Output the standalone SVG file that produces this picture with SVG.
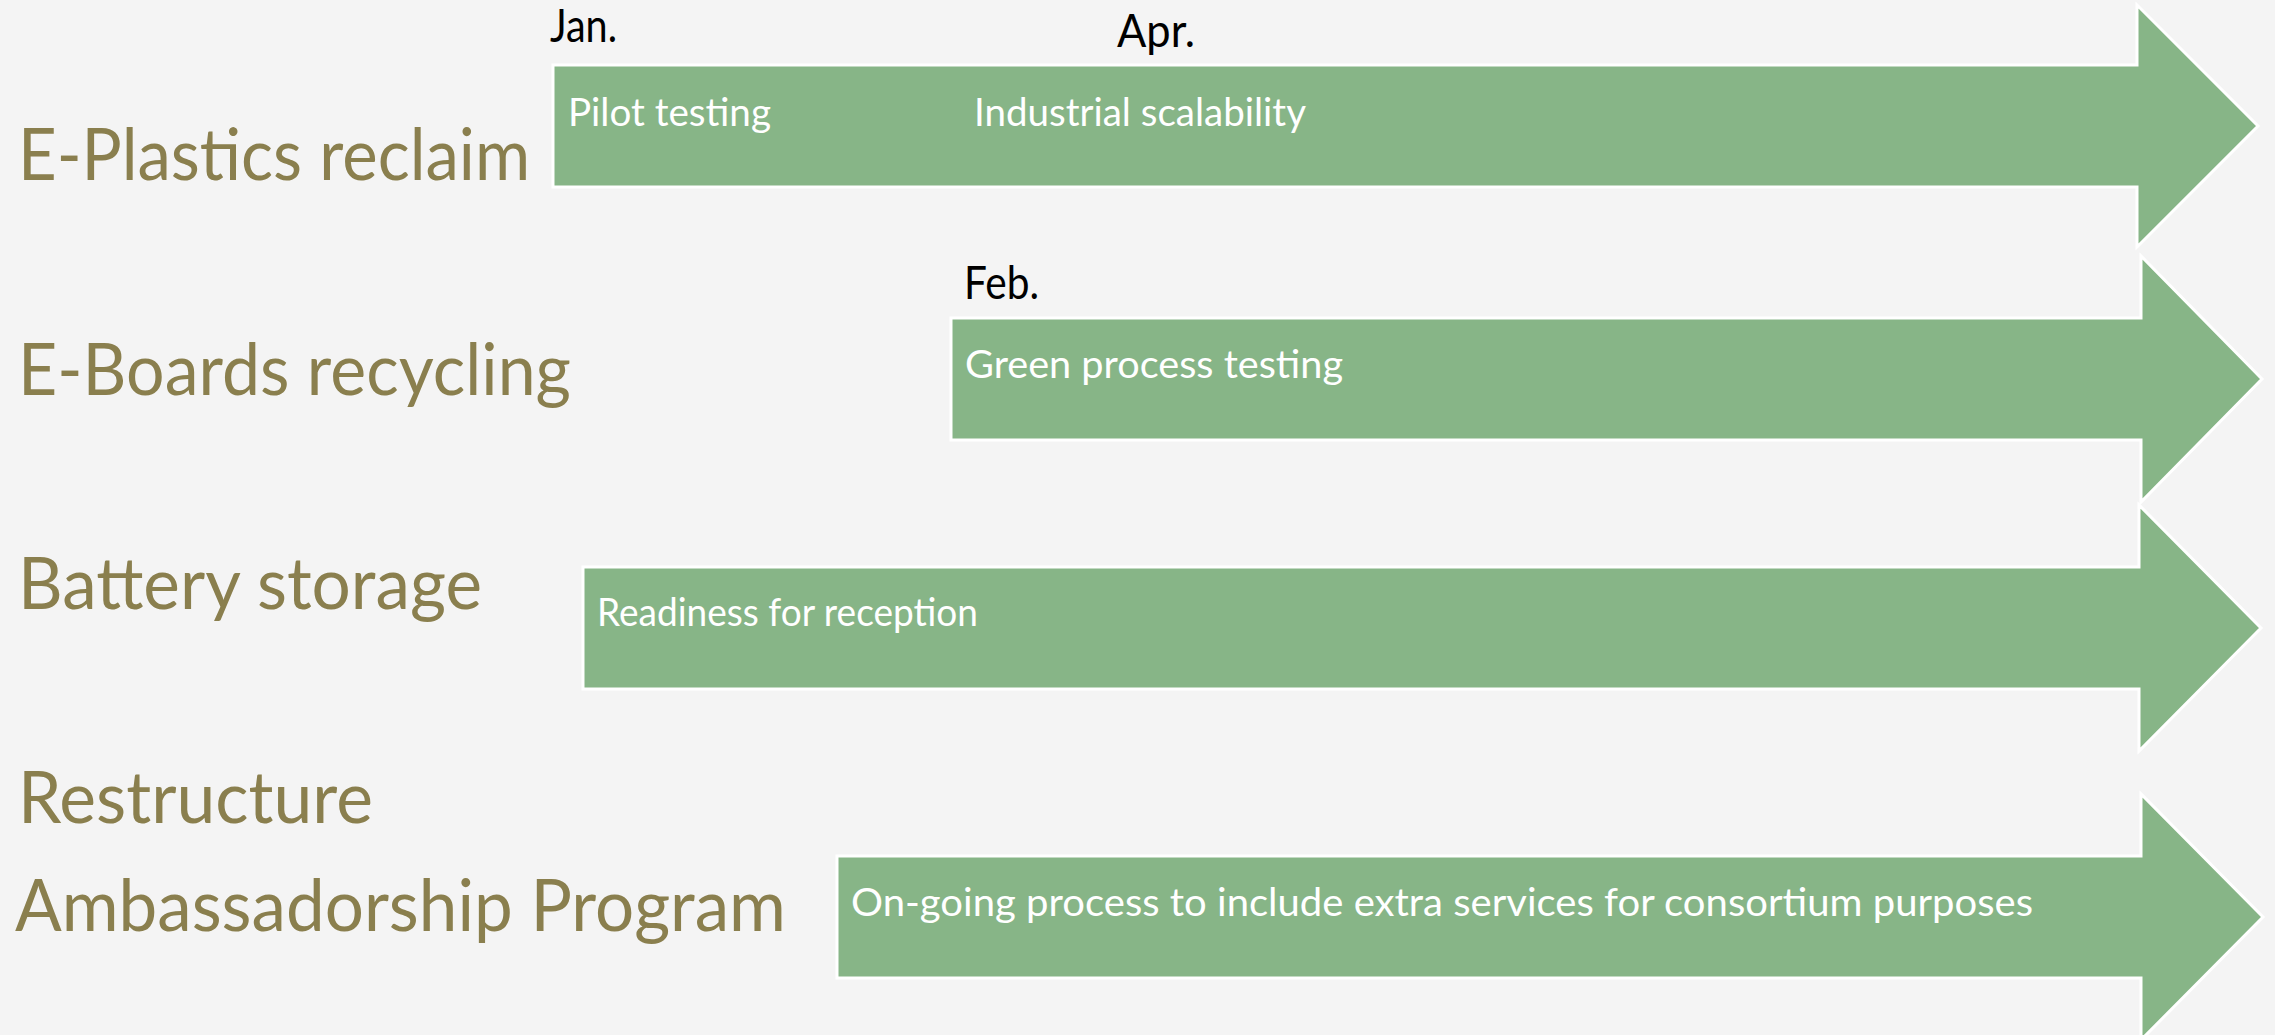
<svg xmlns="http://www.w3.org/2000/svg" width="2275" height="1035" viewBox="0 0 2275 1035">
<style>
.bg{fill:#F4F4F4}
.arrow{fill:#87B587;stroke:#FFFFFF;stroke-width:3;stroke-linejoin:miter}
.lbl{font-family:Lato,"Open Sans","Liberation Sans",sans-serif;font-size:71px;fill:#8A7F4E}
.mon{font-family:Lato,"Open Sans","Liberation Sans",sans-serif;font-size:47px;fill:#000000}
.in{font-family:Lato,"Open Sans","Liberation Sans",sans-serif;font-size:39px;fill:#FFFFFF}
</style>
<rect class="bg" x="0" y="0" width="2275" height="1035"/>
<g id="connectors">
<path id="arrow-plastics" class="arrow" d="M553,65 H2137 V5 L2258,126 L2137,247 V187 H553 Z"/>
<path id="arrow-boards" class="arrow" d="M951,318 H2141 V256 L2262,379 L2141,502 V440 H951 Z"/>
<path id="arrow-battery" class="arrow" d="M583,567 H2139 V505 L2261,628 L2139,751 V689 H583 Z"/>
<path id="arrow-ambassador" class="arrow" d="M837,856 H2141 V794 L2263,917 L2141,1040 V978 H837 Z"/>
</g>
<g id="node-plastics">
<text class="lbl" x="18" y="180" textLength="512" lengthAdjust="spacingAndGlyphs">E-Plastics reclaim</text>
<text class="mon" x="550" y="42" textLength="67" lengthAdjust="spacingAndGlyphs">Jan.</text>
<text class="mon" x="1117" y="47" textLength="78" lengthAdjust="spacingAndGlyphs">Apr.</text>
<text class="in" x="568" y="126" textLength="203" lengthAdjust="spacingAndGlyphs">Pilot testing</text>
<text class="in" x="974" y="126" textLength="332" lengthAdjust="spacingAndGlyphs">Industrial scalability</text>
</g>
<g id="node-boards">
<text class="lbl" x="18" y="395" textLength="553" lengthAdjust="spacingAndGlyphs">E-Boards recycling</text>
<text class="mon" x="964" y="299" textLength="75" lengthAdjust="spacingAndGlyphs">Feb.</text>
<text class="in" x="965" y="378" textLength="378" lengthAdjust="spacingAndGlyphs">Green process testing</text>
</g>
<g id="node-battery">
<text class="lbl" x="18" y="609" textLength="464" lengthAdjust="spacingAndGlyphs">Battery storage</text>
<text class="in" x="597" y="626" textLength="381" lengthAdjust="spacingAndGlyphs">Readiness for reception</text>
</g>
<g id="node-ambassador">
<text class="lbl" x="18" y="823" textLength="355" lengthAdjust="spacingAndGlyphs">Restructure</text>
<text class="lbl" x="15" y="931" textLength="771" lengthAdjust="spacingAndGlyphs">Ambassadorship Program</text>
<text class="in" x="851" y="916" textLength="1182" lengthAdjust="spacingAndGlyphs">On-going process to include extra services for consortium purposes</text>
</g>
</svg>
